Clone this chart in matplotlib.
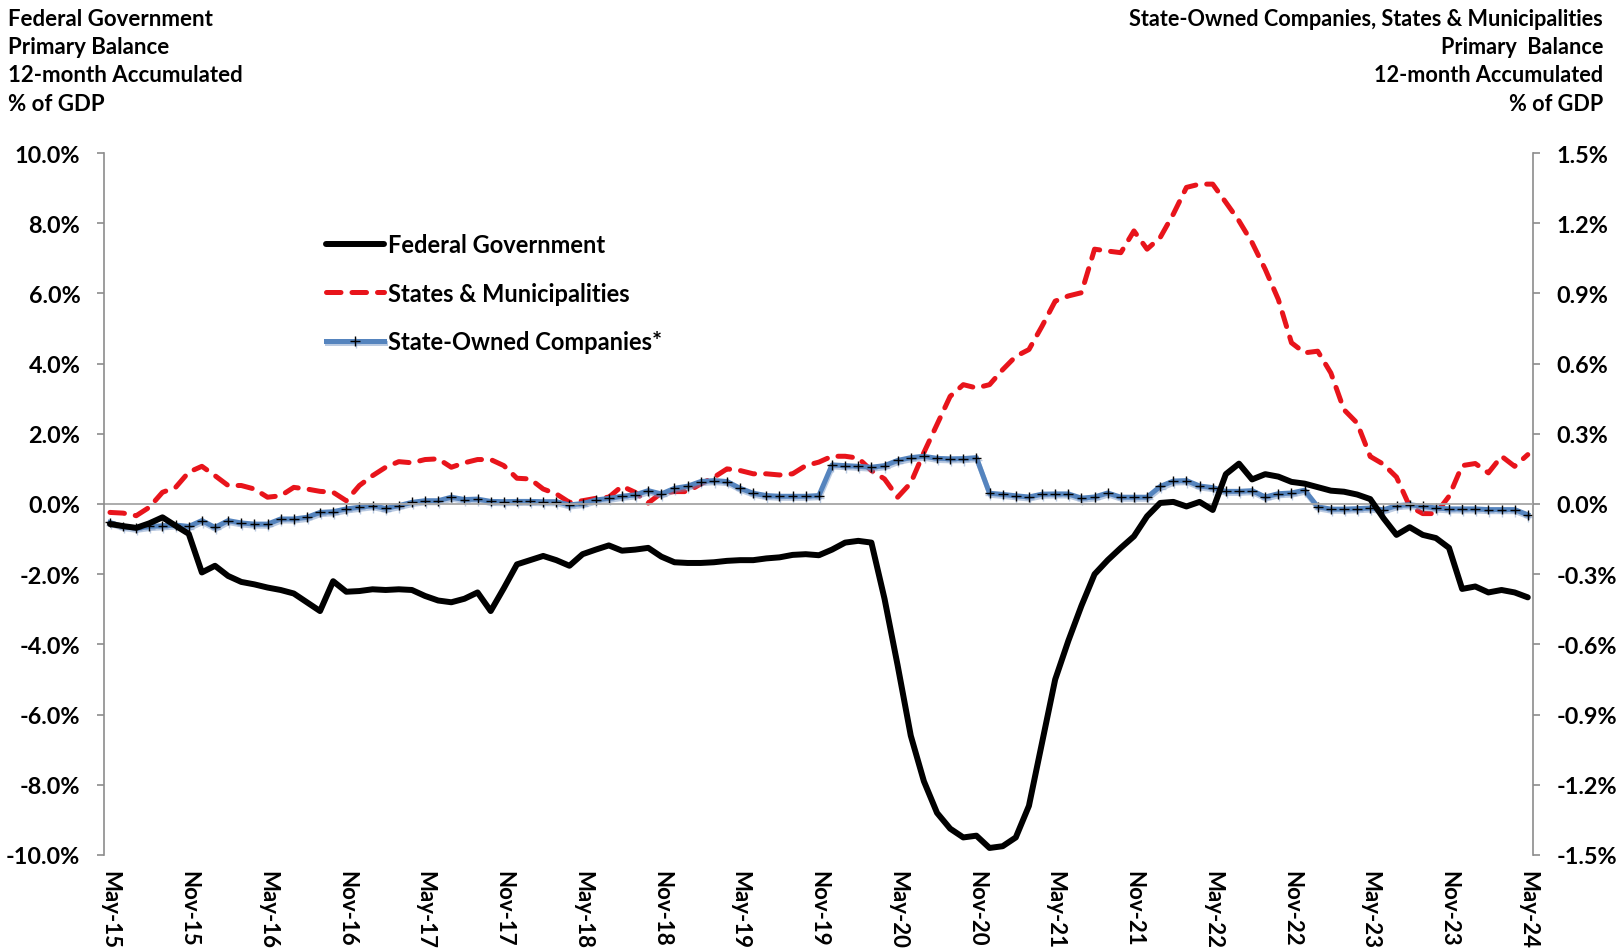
import matplotlib

matplotlib.use("Agg")
import matplotlib.patheffects as pe
import matplotlib.pyplot as plt
import numpy as np

plt.rcParams["font.family"] = ["Lato", "DejaVu Sans"]

# Monthly series, May-15 .. May-24 (12-month accumulated, % of GDP)
federal = [
    -0.57, -0.63, -0.68, -0.55, -0.38, -0.62, -0.85, -1.95, -1.76, -2.05,
    -2.22, -2.29, -2.38, -2.45, -2.55, -2.80, -3.05, -2.20, -2.50, -2.48,
    -2.43, -2.45, -2.43, -2.45, -2.62, -2.75, -2.80, -2.70, -2.52, -3.05,
    -2.40, -1.72, -1.60, -1.48, -1.60, -1.76, -1.43, -1.30, -1.18, -1.33,
    -1.30, -1.25, -1.50, -1.66, -1.68, -1.68, -1.66, -1.62, -1.60, -1.60,
    -1.55, -1.52, -1.45, -1.43, -1.46, -1.30, -1.10, -1.05, -1.10, -2.70,
    -4.60, -6.60, -7.90, -8.80, -9.25, -9.50, -9.45, -9.80, -9.75, -9.50,
    -8.60, -6.80, -5.00, -3.90, -2.90, -2.00, -1.60, -1.25, -0.92, -0.35,
    0.03, 0.06, -0.07, 0.06, -0.17, 0.85, 1.15, 0.70, 0.85, 0.78,
    0.63, 0.58, 0.48, 0.38, 0.35, 0.27, 0.14, -0.40, -0.88, -0.66,
    -0.88, -0.97, -1.25, -2.42, -2.35, -2.52, -2.45, -2.52, -2.66,
]
states = [
    -0.036, -0.039, -0.050, -0.014, 0.050, 0.071, 0.136, 0.161, 0.121, 0.079,
    0.079, 0.064, 0.029, 0.035, 0.071, 0.064, 0.054, 0.050, 0.014, 0.079,
    0.121, 0.157, 0.181, 0.176, 0.190, 0.193, 0.157, 0.176, 0.190, 0.190,
    0.164, 0.110, 0.107, 0.064, 0.043, 0.007, 0.014, 0.024, 0.029, 0.076,
    0.050, 0.004, 0.047, 0.053, 0.053, 0.086, 0.114, 0.150, 0.143, 0.129,
    0.129, 0.124, 0.129, 0.164, 0.179, 0.204, 0.204, 0.196, 0.143, 0.107,
    0.029, 0.090, 0.220, 0.340, 0.460, 0.510, 0.496, 0.510, 0.574, 0.631,
    0.660, 0.760, 0.867, 0.889, 0.903, 1.089, 1.081, 1.074, 1.167, 1.089,
    1.139, 1.239, 1.353, 1.367, 1.367, 1.289, 1.210, 1.117, 1.003, 0.874,
    0.689, 0.646, 0.653, 0.560, 0.403, 0.346, 0.203, 0.170, 0.115, -0.010,
    -0.041, -0.041, 0.033, 0.164, 0.173, 0.133, 0.204, 0.161, 0.211,
]
state_owned = [
    -0.079, -0.096, -0.104, -0.096, -0.093, -0.090, -0.096, -0.071, -0.100, -0.071,
    -0.081, -0.086, -0.086, -0.064, -0.064, -0.057, -0.036, -0.033, -0.021, -0.014,
    -0.007, -0.019, -0.007, 0.007, 0.014, 0.014, 0.029, 0.019, 0.021, 0.011,
    0.010, 0.011, 0.011, 0.010, 0.010, -0.004, 0.002, 0.017, 0.024, 0.033,
    0.039, 0.057, 0.043, 0.067, 0.076, 0.096, 0.100, 0.096, 0.067, 0.046,
    0.036, 0.033, 0.033, 0.033, 0.036, 0.167, 0.164, 0.161, 0.157, 0.164,
    0.186, 0.198, 0.204, 0.195, 0.193, 0.194, 0.198, 0.046, 0.041, 0.035,
    0.030, 0.042, 0.043, 0.043, 0.025, 0.030, 0.047, 0.029, 0.029, 0.029,
    0.075, 0.098, 0.100, 0.077, 0.070, 0.054, 0.054, 0.057, 0.030, 0.044,
    0.047, 0.059, -0.012, -0.022, -0.022, -0.020, -0.017, -0.025, -0.007, -0.003,
    -0.010, -0.017, -0.021, -0.021, -0.021, -0.024, -0.024, -0.024, -0.046,
]
tick_labels = [
    "May-15", "Nov-15", "May-16", "Nov-16", "May-17", "Nov-17", "May-18",
    "Nov-18", "May-19", "Nov-19", "May-20", "Nov-20", "May-21", "Nov-21",
    "May-22", "Nov-22", "May-23", "Nov-23", "May-24",
]
left_ticks = [10, 8, 6, 4, 2, 0, -2, -4, -6, -8, -10]
right_ticks = [1.5, 1.2, 0.9, 0.6, 0.3, 0.0, -0.3, -0.6, -0.9, -1.2, -1.5]

x = np.arange(len(federal))
axis_grey = "#8C8C8C"

fig = plt.figure(figsize=(16.19, 9.53), dpi=100)
ax = fig.add_axes([0.0642, 0.1018, 0.8827, 0.7366])
ax2 = ax.twinx()
ax.set_zorder(ax2.get_zorder() + 1)
ax.patch.set_visible(False)

(l_fed,) = ax.plot(x, federal, color="black", lw=4.3, solid_joinstyle="round",
                   solid_capstyle="round", label="Federal Government")
(l_sm,) = ax2.plot(x, states, color="#E8141B", lw=3.6, ls=(0, (2.9, 2.2)),
                   dash_capstyle="round", label="States & Municipalities")
(l_soe,) = ax2.plot(
    x, state_owned, color="#5584BE", lw=3.6, marker="+", ms=7, mec="black",
    mew=1.0, label="State-Owned Companies*",
    path_effects=[pe.SimpleLineShadow(offset=(0.5, -1.5), shadow_color="#6A8CC0", alpha=0.45),
                  pe.Normal()],
)

ax.axhline(0, color="#A6A6A6", lw=1.3, zorder=1)

ax.set_xlim(-0.46, len(x) - 0.6)
ax.set_ylim(-10, 10)
ax2.set_ylim(-1.5, 1.5)

ax.set_yticks(left_ticks)
ax.set_yticklabels([f"{v:.1f}%" for v in left_ticks])
ax2.set_yticks(right_ticks)
ax2.set_yticklabels([f"{v:.1f}%" for v in right_ticks])
ax.set_xticks(np.arange(0, len(x), 6))
ax.set_xticklabels(tick_labels, rotation=270, va="top", ha="center")

for a in (ax, ax2):
    a.spines["top"].set_visible(False)
    a.spines["bottom"].set_visible(False)
    a.spines["left"].set_color(axis_grey)
    a.spines["right"].set_color(axis_grey)
    a.spines["left"].set_linewidth(1.2)
    a.spines["right"].set_linewidth(1.2)
ax.spines["right"].set_visible(False)
ax2.spines["left"].set_visible(False)

ax.tick_params(axis="y", direction="out", length=5, width=1.2, color=axis_grey,
               pad=12, labelsize=16.8)
ax2.tick_params(axis="y", direction="out", length=5, width=1.2, color=axis_grey,
                pad=12, labelsize=16.8)
ax.tick_params(axis="x", length=0, pad=11, labelsize=16)
for lbl in ax.get_yticklabels() + ax2.get_yticklabels() + ax.get_xticklabels():
    lbl.set_fontweight("bold")

ax.legend(
    handles=[l_fed, l_sm, l_soe], loc="upper left", bbox_to_anchor=(0.2014, 0.7545),
    bbox_transform=fig.transFigure, frameon=False, borderpad=0, borderaxespad=0,
    handlelength=2.45, handletextpad=0.17, labelspacing=1.09, numpoints=1,
    prop={"weight": "bold", "size": 17},
)

left_head = ["Federal Government", "Primary Balance", "12-month Accumulated", "% of GDP"]
right_head = ["State-Owned Companies, States & Municipalities", "Primary  Balance",
              "12-month Accumulated", "% of GDP"]
baselines = [26, 54, 82, 111]
for txt, yb in zip(left_head, baselines):
    fig.text(0.005, 1 - yb / 953, txt, ha="left", va="baseline", fontsize=16,
             fontweight="bold")
for txt, yb in zip(right_head, baselines):
    fig.text(0.9901, 1 - yb / 953, txt, ha="right", va="baseline", fontsize=15.6,
             fontweight="bold")

fig.savefig("out.png", dpi=100)
